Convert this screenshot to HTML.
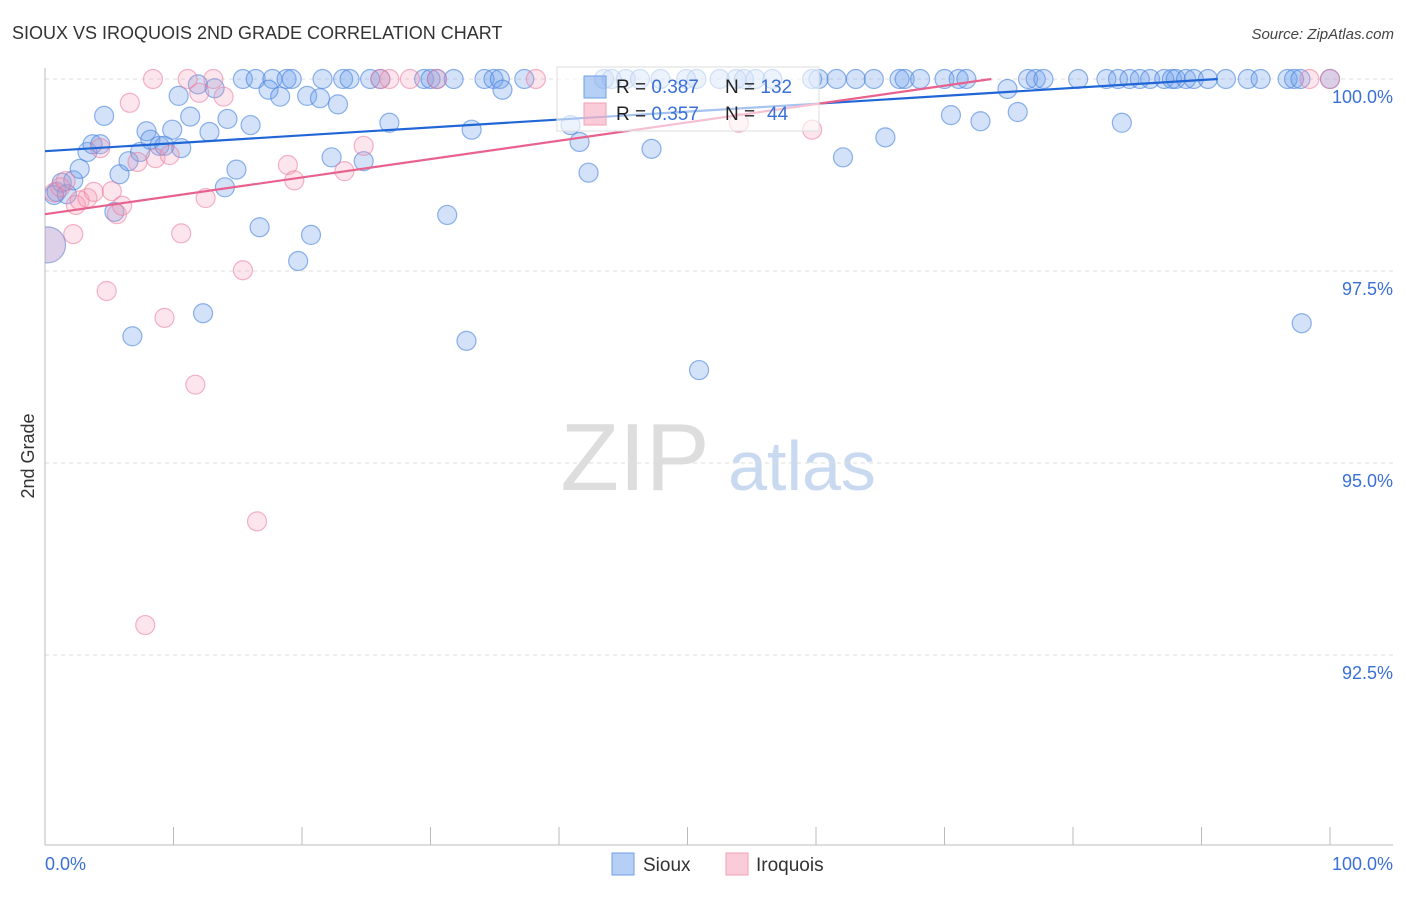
<!DOCTYPE html>
<html><head><meta charset="utf-8"><style>
body{margin:0;background:#fff;font-family:"Liberation Sans",sans-serif;}
svg text{font-family:"Liberation Sans",sans-serif;}
</style></head><body>
<svg id="chart" width="1406" height="892" xmlns="http://www.w3.org/2000/svg">
<defs><clipPath id="plotclip"><rect x="45" y="50" width="1360" height="800"/></clipPath></defs>
<text x="12" y="39" font-size="18" fill="#333">SIOUX VS IROQUOIS 2ND GRADE CORRELATION CHART</text>
<text x="1394" y="39" font-size="15" fill="#444" font-style="italic" text-anchor="end">Source: ZipAtlas.com</text>
<g>
<text x="635" y="490" font-size="96" fill="#ddd" text-anchor="middle" font-family="Liberation Serif, serif">ZIP</text>
<text x="802" y="490" font-size="70" fill="#c9d9f0" text-anchor="middle">atlas</text>
</g>
<g id="grid"></g>
<g id="axes"></g>
<g id="points" clip-path="url(#plotclip)"></g>
<g id="lines"></g>
<g>
<rect x="557" y="67" width="262" height="64" fill="rgba(255,255,255,0.6)" stroke="#ddd"/>
<rect x="584" y="76" width="22" height="22" fill="rgba(110,160,235,0.5)" stroke="#6f9fe6"/>
<rect x="584" y="103" width="22" height="22" fill="rgba(245,160,185,0.55)" stroke="#f0a0b8"/>
<text x="616" y="93" font-size="19" fill="#222">R = <tspan fill="#3a70d6">0.387</tspan><tspan x="725">N = </tspan><tspan fill="#3a70d6">132</tspan></text>
<text x="616" y="120" font-size="19" fill="#222">R = <tspan fill="#3a70d6">0.357</tspan><tspan x="725">N = </tspan><tspan fill="#3a70d6" x="767">44</tspan></text>
</g>
<g>
<rect x="612" y="853" width="22" height="22" fill="rgba(110,160,235,0.5)" stroke="#6f9fe6"/>
<text x="643" y="871" font-size="19" fill="#333">Sioux</text>
<rect x="726" y="853" width="22" height="22" fill="rgba(245,160,185,0.55)" stroke="#f0a0b8"/>
<text x="756" y="871" font-size="19" fill="#333">Iroquois</text>
</g>
<text transform="translate(34,456) rotate(-90)" font-size="18" fill="#333" text-anchor="middle">2nd Grade</text>
</svg>
<script>
const yTicks=[100,97.5,95,92.5];
const yTickLabels=["100.0%","97.5%","95.0%","92.5%"];
const xTickLabels=["0.0%","100.0%"];
const siouxTopX=[15.4,16.4,17.7,18.8,19.2,21.6,23.2,23.7,25.3,26.1,29.5,30.0,30.5,31.8,34.2,34.9,35.4,37.3,43.5,44.1,45.2,46.3,47.9,49.9,50.7,52.5,53.8,54.4,55.3,56.6,59.7,60.2,61.6,63.1,64.5,66.5,66.9,68.1,70.0,71.1,71.7,76.5,77.1,77.7,80.4,82.6,83.5,84.4,85.2,86.0,87.1,87.7,88.0,88.8,89.4,90.5,91.9,93.6,94.6,96.7,97.2,97.7,100];
const siouxX=[0.7,0.9,1.3,1.7,2.2,2.7,3.3,3.7,4.3,4.6,5.4,5.8,6.5,6.8,7.4,7.9,8.2,8.9,9.3,9.9,10.4,10.6,11.3,11.9,12.3,12.8,13.2,14.0,14.2,14.9,16.0,16.7,17.4,18.3,19.7,20.4,20.7,21.4,22.3,22.8,24.8,26.8,31.3,32.8,33.2,35.6,40.9,41.6,42.3,47.2,50.9,62.1,65.4,70.5,72.8,74.9,75.7,83.8,97.8];
const siouxY=[98.49,98.53,98.65,98.50,98.68,98.83,99.05,99.15,99.15,99.52,98.27,98.76,98.93,96.65,99.05,99.32,99.21,99.13,99.13,99.34,99.78,99.10,99.51,99.93,96.95,99.31,99.88,98.59,99.48,98.82,99.40,98.07,99.86,99.77,97.63,99.78,97.97,99.75,98.98,99.67,98.93,99.43,98.23,96.59,99.34,99.86,99.40,99.18,98.78,99.09,96.21,98.98,99.24,99.53,99.45,99.87,99.57,99.43,96.82];
const iroqX=[0.7,1.2,1.6,2.4,2.7,3.3,3.8,4.3,4.8,5.2,5.6,6.0,6.6,7.2,7.8,8.4,8.6,9.3,9.7,10.6,11.1,11.7,12.0,12.5,13.1,13.9,15.4,16.5,18.9,19.4,23.3,24.8,26.1,26.8,28.4,30.5,38.2,54.0,59.7,98.4,100,2.2];
const iroqY=[98.52,98.59,98.67,98.36,98.42,98.45,98.53,99.10,97.24,98.54,98.24,98.35,99.69,98.92,92.89,100,98.97,96.89,99.01,97.99,100,96.02,99.82,98.45,100,99.77,97.51,94.24,98.88,98.68,98.80,99.13,100,100,100,100,100,99.43,99.34,100,100,97.98];
const bigPoint=[0.2,97.84];
const siouxTrend=[99.06,0.0103];
const iroqTrend=[98.24,0.0239];
const NS="http://www.w3.org/2000/svg";
const X=v=>45+v*12.85, Y=v=>79+(100-v)*76.8;
function mk(p,t,a){const e=document.createElementNS(NS,t);for(const k in a)e.setAttribute(k,a[k]);p.appendChild(e);return e;}
const grid=document.getElementById('grid'),axes=document.getElementById('axes'),pts=document.getElementById('points'),lines=document.getElementById('lines');
yTicks.forEach((t,i)=>{
 const l=mk(grid,'line',{x1:45,x2:1393,y1:Y(t),y2:Y(t),stroke:'#ddd','stroke-dasharray':'4,4'});
 
 
 const tx=mk(grid,'text',{x:1393,y:Y(t)+24,'font-size':18,fill:'#3a70d6','text-anchor':'end'});tx.textContent=yTickLabels[i];
 
 
});
const ax=mk(axes,'line',{x1:45,x2:1393,y1:845,y2:845,stroke:'#bbb'});


const ay=mk(axes,'line',{x1:45,x2:45,y1:68,y2:845,stroke:'#bbb'});


for(let i=0;i<=10;i++){const t=mk(axes,'line',{x1:X(i*10),x2:X(i*10),y1:827,y2:845,stroke:'#bbb'});
 
 }
const l0=mk(axes,'text',{x:45,y:870,'font-size':18,fill:'#3a70d6'});l0.textContent=xTickLabels[0];


const l1=mk(axes,'text',{x:1393,y:870,'font-size':18,fill:'#3a70d6','text-anchor':'end'});l1.textContent=xTickLabels[1];


function dot(x,y,r,c){const e=mk(pts,'circle',{cx:X(x),cy:Y(y),r:r,fill:c[0],stroke:c[1],'stroke-width':1.2});return e;}
const B=['rgba(110,160,235,0.3)','rgba(70,130,220,0.6)'],P=['rgba(245,150,180,0.25)','rgba(235,120,155,0.55)'];
siouxTopX.forEach(x=>{const e=dot(x,100,9.5,B);});
siouxX.forEach((x,i)=>{const e=dot(x,siouxY[i],9.5,B);});
iroqX.forEach((x,i)=>{const e=dot(x,iroqY[i],9.5,P);});
const bb=dot(bigPoint[0],bigPoint[1],18,['rgba(170,140,200,0.4)','rgba(110,130,210,0.6)']);


function trend(tr,col,name){const xe=Math.min(100,(100-tr[0])/tr[1]);
 const e=mk(lines,'line',{x1:X(0),y1:Y(tr[0]),x2:X(xe),y2:Y(tr[0]+tr[1]*xe),stroke:col,'stroke-width':2.2});
 
 }
trend(siouxTrend,'#2166d6','sioux-trend-line');
trend(iroqTrend,'#e8628e','iroquois-trend-line');
</script>
</body></html>
